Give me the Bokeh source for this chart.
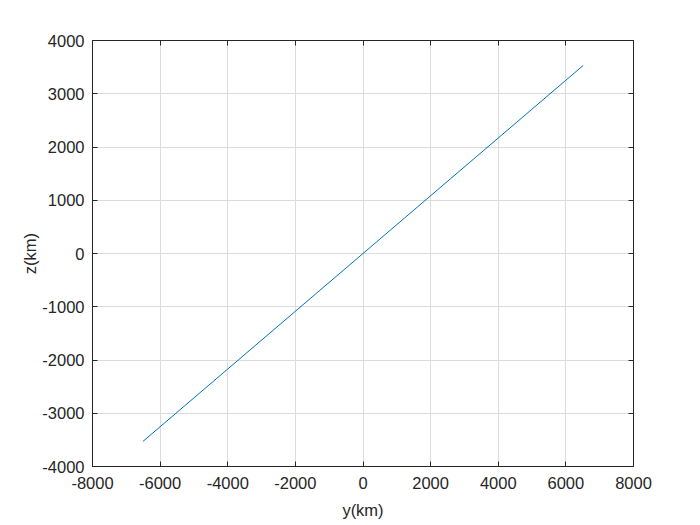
from bokeh.plotting import figure
from bokeh.models import Range1d, LinearAxis, SingleIntervalTicker, CustomJSTickFormatter
from bokeh.embed import file_html
from bokeh.resources import INLINE

# data: trajectory projected on y-z plane (km)
y_km = [-6510, -3255, 0, 3255, 6510]
z_km = [-3530, -1765, 0, 1765, 3530]

x_ticks_interval = 2000
y_ticks_interval = 1000

FONT = "Liberation Sans"
DARK = "#262626"

p = figure(frame_width=541, frame_height=426,
           min_border_left=92, min_border_top=40, min_border_right=60, min_border_bottom=55,
           x_range=Range1d(-8000, 8000), y_range=Range1d(-4000, 4000),
           output_backend="svg", toolbar_location=None,
           x_axis_label="y(km)", y_axis_label="z(km)")

p.line(y_km, z_km, line_color="#0072BD", line_width=1)

xt = SingleIntervalTicker(interval=x_ticks_interval, num_minor_ticks=0)
yt = SingleIntervalTicker(interval=y_ticks_interval, num_minor_ticks=0)
p.xaxis.ticker = xt
p.yaxis.ticker = yt
p.xgrid.ticker = xt
p.ygrid.ticker = yt

fmt = CustomJSTickFormatter(code="return Math.round(tick).toString();")

for ax in p.xaxis + p.yaxis:
    ax.formatter = fmt
    ax.major_tick_in = 5
    ax.major_tick_out = 0
    ax.minor_tick_in = 0
    ax.minor_tick_out = 0
    ax.axis_line_color = DARK
    ax.major_tick_line_color = DARK
    ax.major_label_text_font = FONT
    ax.major_label_text_font_size = "16.5px"
    ax.major_label_text_color = DARK
    ax.axis_label_text_font = FONT
    ax.axis_label_text_font_size = "16.5px"
    ax.axis_label_text_font_style = "normal"
    ax.axis_label_text_color = DARK

p.xaxis.major_label_standoff = 10
p.xaxis.axis_label_standoff = 9
p.yaxis.major_label_standoff = 8
p.yaxis.axis_label_standoff = 0

top = LinearAxis(ticker=xt, major_tick_in=5, major_tick_out=0, minor_tick_in=0, minor_tick_out=0,
                 axis_line_color=DARK, major_tick_line_color=DARK, major_label_text_color=None,
                 major_label_text_font_size="15px")
right = LinearAxis(ticker=yt, major_tick_in=5, major_tick_out=0, minor_tick_in=0, minor_tick_out=0,
                   axis_line_color=DARK, major_tick_line_color=DARK, major_label_text_color=None,
                   major_label_text_font_size="15px")
p.add_layout(top, "above")
p.add_layout(right, "right")

p.xgrid.grid_line_color = "#dcdcdc"
p.ygrid.grid_line_color = "#dcdcdc"
p.outline_line_color = DARK
p.background_fill_color = "white"
p.border_fill_color = "white"

open("out.html", "w").write(file_html(p, INLINE))
